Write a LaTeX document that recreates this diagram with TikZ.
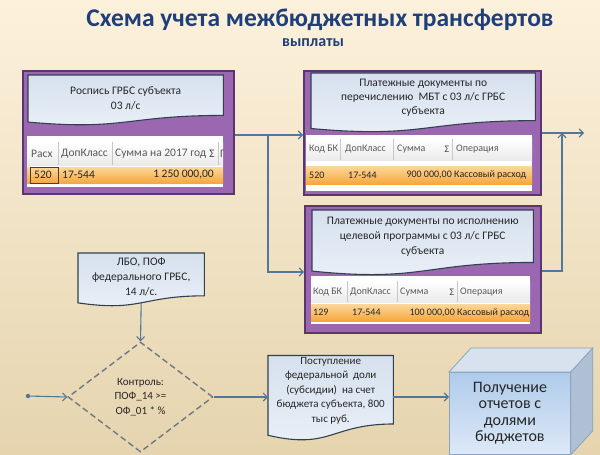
\documentclass[tikz,border=0pt]{standalone}
\usepackage{fontspec}
\setmainfont{Carlito}
\usetikzlibrary{arrows.meta,calc,shapes.geometric}
\definecolor{bgtop}{HTML}{FCF1DC}
\definecolor{bgbot}{HTML}{E5D4AE}
\definecolor{titleblue}{HTML}{1F3F7B}
\definecolor{purp}{HTML}{9B67B0}
\definecolor{purpdark}{HTML}{5A3670}
\definecolor{docfillA}{HTML}{D6E1EE}
\definecolor{docfillB}{HTML}{EAF0F7}
\definecolor{docline}{HTML}{33404F}
\definecolor{arrowc}{HTML}{52779C}
\definecolor{orangeA}{HTML}{FCD89C}
\definecolor{orangeB}{HTML}{F6A73C}
\definecolor{hdrgray}{HTML}{5A5A5A}
\definecolor{sepgray}{HTML}{C3C8CF}
\definecolor{cubeA}{HTML}{AFCBEB}
\definecolor{cubeB}{HTML}{DDE9F7}
\definecolor{cubeTop}{HTML}{D8E2EE}
\definecolor{cubeSide}{HTML}{AFC0D4}
\definecolor{cubeLine}{HTML}{8CA4C0}
\definecolor{dashc}{HTML}{6E7885}
\newcommand{\docpath}[1]{%
  \path[docshape] (#1.north west) -- (#1.north east)
    -- ($(#1.north east)!0.802!(#1.south east)$)
    .. controls ($(#1.north)!0.802!(#1.south)$) and ($(#1.north)!1.107!(#1.south)$)
    .. ($(#1.north west)!0.934!(#1.south west)$) -- cycle;}
\tikzset{
  purplebox/.style={draw=purpdark, line width=1.8pt, fill=purp, inner sep=0, anchor=north west},
  docbox/.style={draw=none, inner sep=0, anchor=north west},
  docshape/.style={draw=docline, line width=1.1pt, top color=docfillA, bottom color=docfillB},
  doctext/.style={align=center, font=\fontsize{11.5}{14}\selectfont, text=black!85, inner sep=0},
  hdr/.style={font=\fontsize{10}{12}\selectfont, text=hdrgray, inner sep=0, anchor=west},
  cell/.style={font=\fontsize{10}{12}\selectfont, text=black!85, inner sep=0, anchor=west},
  cellr/.style={font=\fontsize{10}{12}\selectfont, text=black!85, inner sep=0, anchor=east},
  sigma/.style={font=\fontsize{10}{12}\selectfont, text=black!75, inner sep=0},
  bigtab/.style={font=\fontsize{11.5}{13}\selectfont},
  arr/.style={draw=arrowc, line width=1.1pt, -{Straight Barb[length=4pt,width=8pt]}},
  sep/.style={draw=sepgray, line width=0.6pt},
  hdrshade/.style={top color=white, bottom color=black!8},
  rowshade/.style={top color=orangeA, bottom color=orangeB},
}
\begin{document}
\begin{tikzpicture}[x=1pt,y=-1pt]
\useasboundingbox (0,0) rectangle (600,455);
\shade[top color=bgtop, bottom color=bgbot] (0,0) rectangle (600,455);

% title
\node[font=\bfseries\fontsize{25.5}{28}\selectfont, text=titleblue, inner sep=0] (title) at (320,20) {Схема учета межбюджетных трансфертов};
\node[font=\bfseries\fontsize{16}{18}\selectfont, text=titleblue, inner sep=0] (sub) at (313,43) {выплаты};

% purple boxes
\node[purplebox, minimum width=211pt, minimum height=123pt] (ros) at (22,70) {};
\node[purplebox, minimum width=237pt, minimum height=124pt] (tr) at (303,70) {};
\node[purplebox, minimum width=236pt, minimum height=127pt] (mr) at (304,205) {};

% document shapes
\node[docbox, minimum width=195pt, minimum height=50pt] (rosDoc) at (28,75) {};
\docpath{rosDoc}
\node[doctext, font=\fontsize{11.5}{15}\selectfont] (rosText) at ($(rosDoc.north)!0.46!(rosDoc.south)$) {Роспись ГРБС субъекта\\03 л/с};

\node[docbox, minimum width=224pt, minimum height=59pt] (trDoc) at (311,73) {};
\docpath{trDoc}
\node[doctext] (trText) at ($(trDoc.north)!0.41!(trDoc.south)$) {Платежные документы по\\перечислению\ \ МБТ с 03 л/с ГРБС\\субъекта};

\node[docbox, minimum width=221pt, minimum height=65pt] (mrDoc) at (312,210) {};
\docpath{mrDoc}
\node[doctext, font=\fontsize{11.5}{15}\selectfont] (mrText) at ($(mrDoc.north)!0.415!(mrDoc.south)$) {Платежные документы по исполнению\\целевой\ программы с 03 л/с ГРБС\\субъекта};

\node[docbox, minimum width=126pt, minimum height=53pt] (lboDoc) at (78,253) {};
\docpath{lboDoc}
\node[doctext, font=\fontsize{11.5}{15}\selectfont] (lboText) at ($(lboDoc.north)!0.45!(lboDoc.south)$) {ЛБО, ПОФ\\федерального ГРБС,\\14 л/с.};

\node[docbox, minimum width=125pt, minimum height=85pt] (postDoc) at (268,355.5) {};
\docpath{postDoc}
\node[doctext, font=\fontsize{11}{14.5}\selectfont] (postText) at ($(postDoc.north)!0.41!(postDoc.south)$) {Поступление\\федеральной\ \ доли\\(субсидии)\ \ на счет\\бюджета субъекта, 800\\тыс руб.};

% left table
\fill[white] (27,136) rectangle (223,187);
\shade[hdrshade] (27,142) rectangle (223,165);
\shade[rowshade] (27,167) rectangle (223,183);
\draw[sep] (58,142) -- (58,165) (112,142) -- (112,165) (218,142) -- (218,165);
\node[hdr, bigtab] (rh1) at (31,154) {Расх};
\node[hdr, bigtab] (rh2) at (61,154) {ДопКласс};
\node[hdr, bigtab] (rh3) at (115,154) {Сумма на 2017 год};
\node[sigma, bigtab] (rh4) at (212,154) {Σ};
\begin{scope}
\clip (219,140) rectangle (223,170);
\node[hdr, bigtab] (rh5) at (220,154) {Г};
\end{scope}
\draw[black!75, line width=0.8pt] (30,167) rectangle (58,183);
\node[cell, bigtab] (rc1) at (34,175) {520};
\node[cell, bigtab] (rc2) at (62,175) {17-544};
\node[cellr, bigtab] (rc3) at (214,175) {1 250 000,00};

% top-right table
\fill[white] (306,135) rectangle (532,191);
\shade[hdrshade] (306,139) rectangle (532,160);
\shade[rowshade] (306,166) rectangle (532,184);
\draw[sep] (340,139) -- (340,160) (393,139) -- (393,160) (452,139) -- (452,160);
\node[hdr] (th1) at (309,149) {Код БК};
\node[hdr] (th2) at (345,149) {ДопКласс};
\node[hdr] (th3) at (397,149) {Сумма};
\node[sigma] (th4) at (447,149) {Σ};
\node[hdr] (th5) at (456,149) {Операция};
\node[cell] (tc1) at (309,175) {520};
\node[cell] (tc2) at (348,175) {17-544};
\node[cellr] (tc3) at (452,175) {900 000,00};
\node[cell] (tc4) at (454,175) {Кассовый расход};

% middle-right table
\fill[white] (311,276) rectangle (530,324);
\shade[hdrshade] (311,281) rectangle (530,302);
\shade[rowshade] (311,304) rectangle (530,321);
\draw[sep] (347,281) -- (347,302) (397,281) -- (397,302) (457,281) -- (457,302);
\node[hdr] (mh1) at (313,292) {Код БК};
\node[hdr] (mh2) at (350,292) {ДопКласс};
\node[hdr] (mh3) at (400,292) {Сумма};
\node[sigma] (mh4) at (452,292) {Σ};
\node[hdr] (mh5) at (460,292) {Операция};
\node[cell] (mc1) at (313,312.5) {129};
\node[cell] (mc2) at (352,312.5) {17-544};
\node[cellr] (mc3) at (455,312.5) {100 000,00};
\node[cell] (mc4) at (457,312.5) {Кассовый расход};

% diamond
\node[diamond, draw=dashc, dashed, dash pattern=on 6pt off 3.5pt, line width=1.4pt,
  minimum width=145pt, minimum height=110pt, inner sep=0, align=center,
  font=\fontsize{11}{14.5}\selectfont, text=black!85] (dia) at (140.5,397) {Контроль:\\ПОФ\_14 >=\\ОФ\_01 * \%};

% cube
\node[draw=cubeLine, line width=0.8pt, top color=cubeA, bottom color=cubeB, inner sep=0,
  anchor=north west, minimum width=121pt, minimum height=82pt, align=center,
  font=\fontsize{16}{16.5}\selectfont, text=black!85] (cube) at (449,372) {Получение\\отчетов с\\долями\\бюджетов};
\filldraw[draw=cubeLine, line width=0.8pt, fill=cubeTop] (cube.north west) -- (cube.north east) -- ($(cube.north east)+(22,-24)$) -- ($(cube.north west)+(22,-24)$) -- cycle;
\filldraw[draw=cubeLine, line width=0.8pt, fill=cubeSide] (cube.north east) -- ($(cube.north east)+(22,-24)$) -- ($(cube.south east)+(22,-24)$) -- (cube.south east) -- cycle;

% connectors
\coordinate (sp) at (268,135);
\coordinate (mrin) at (268,272);
\draw[arr] (ros.east |- sp) -- (tr.west |- sp);
\draw[arr] (sp) -- (mrin) -- (mr.west |- mrin);
\coordinate (outR) at (584,133);
\coordinate (jn) at (562,133);
\coordinate (mrout) at (562,271);
\draw[arr] (tr.east |- outR) -- (outR);
\draw[arr] (mr.east |- mrout) -- (mrout) -- (jn);
\node[circle, fill=arrowc, inner sep=0, minimum size=4.5pt] (src) at (28,396) {};
\draw[arr] (src) -- (dia.west);
\draw[arr] ($(lboDoc.north)!0.933!(lboDoc.south)$) -- (dia.north);
\draw[arr] (dia.east) -- (postDoc.west |- dia.east);
\draw[arr] (postDoc.east |- dia.east) -- (cube.west |- dia.east);
\end{tikzpicture}
\end{document}
